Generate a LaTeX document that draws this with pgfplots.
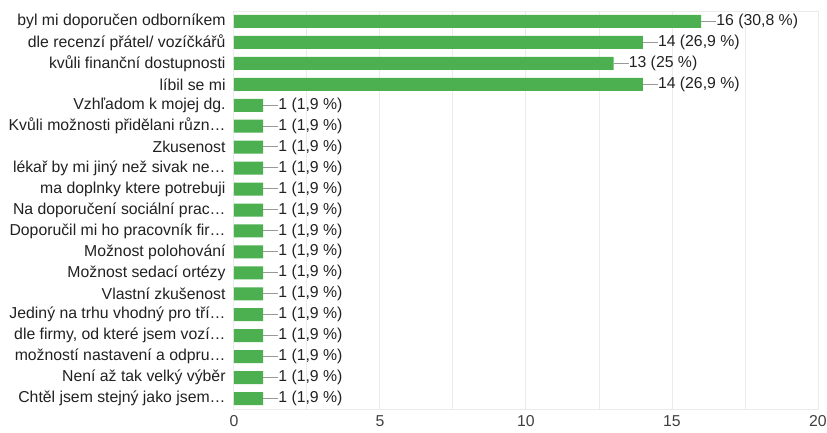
\documentclass[border=0pt]{standalone}
\usepackage{pgfplots}
\pgfplotsset{compat=1.18}
\usepackage{fontspec}
\setmainfont{Liberation Sans}
\definecolor{barg}{RGB}{76,175,80}
\definecolor{txt}{RGB}{33,33,33}
\definecolor{gridc}{RGB}{235,235,235}
\begin{document}
\begin{tikzpicture}
\fontsize{15.8bp}{19bp}\selectfont
\path[use as bounding box] (-234bp,-24bp) rectangle (593bp,409bp);
\begin{axis}[
  at={(0,0)}, anchor=south west,
  scale only axis, width=584bp, height=398bp,
  xmin=0, xmax=20, ymin=-0.5, ymax=18.5, y dir=reverse,
  xbar, bar width=13bp,
  xtick={0,5,...,20}, minor xtick={2.5,7.5,12.5,17.5},
  xmajorgrids, xminorgrids,
  major grid style={draw=gridc, line width=1bp},
  minor grid style={draw=gridc, line width=1bp},
  axis line style={draw=gridc, line width=1bp},
  tick style={draw=none},
  ytick={0,...,18},
  yticklabels={byl mi doporučen odborníkem, dle recenzí přátel/ vozíčkářů, kvůli finanční dostupnosti, líbil se mi, Vzhľadom k mojej dg., Kvůli možnosti přidělani různ…, Zkusenost, lékař by mi jiný než sivak ne…, ma doplnky ktere potrebuji, Na doporučení sociální prac…, Doporučil mi ho pracovník fir…, Možnost polohování, Možnost sedací ortézy, Vlastní zkušenost, Jediný na trhu vhodný pro tří…, {dle firmy, od které jsem vozí…}, možností nastavení a odpru…, Není až tak velký výběr, Chtěl jsem stejný jako jsem…},
  yticklabel style={inner sep=0pt, anchor=east, xshift=-4bp, text=txt, font=\fontsize{15.8bp}{19bp}\selectfont},
  xticklabel style={inner sep=0pt, anchor=north, yshift=-6.5bp, text=black!75, font=\fontsize{15.8bp}{19bp}\selectfont},
  /pgf/number format/assume math mode=true,
  extra x ticks={0}, extra x tick labels={},
  extra x tick style={grid style={draw=black!40, line width=1.2bp}},
  nodes near coords={\textcolor{black!40}{\rule[0.24em]{15bp}{1bp}}\pgfplotspointmeta},
  point meta=explicit symbolic,
  every node near coord/.append style={anchor=west, inner sep=0pt, text=txt, font=\fontsize{15.8bp}{19bp}\selectfont},
]
\addplot[fill=barg, draw=none] table[x=v, y=y, meta=lab, col sep=semicolon]{
y;v;lab
0;16;16 (30,8 \%)
1;14;14 (26,9 \%)
2;13;13 (25 \%)
3;14;14 (26,9 \%)
4;1;1 (1,9 \%)
5;1;1 (1,9 \%)
6;1;1 (1,9 \%)
7;1;1 (1,9 \%)
8;1;1 (1,9 \%)
9;1;1 (1,9 \%)
10;1;1 (1,9 \%)
11;1;1 (1,9 \%)
12;1;1 (1,9 \%)
13;1;1 (1,9 \%)
14;1;1 (1,9 \%)
15;1;1 (1,9 \%)
16;1;1 (1,9 \%)
17;1;1 (1,9 \%)
18;1;1 (1,9 \%)
};
\end{axis}
\end{tikzpicture}
\end{document}
